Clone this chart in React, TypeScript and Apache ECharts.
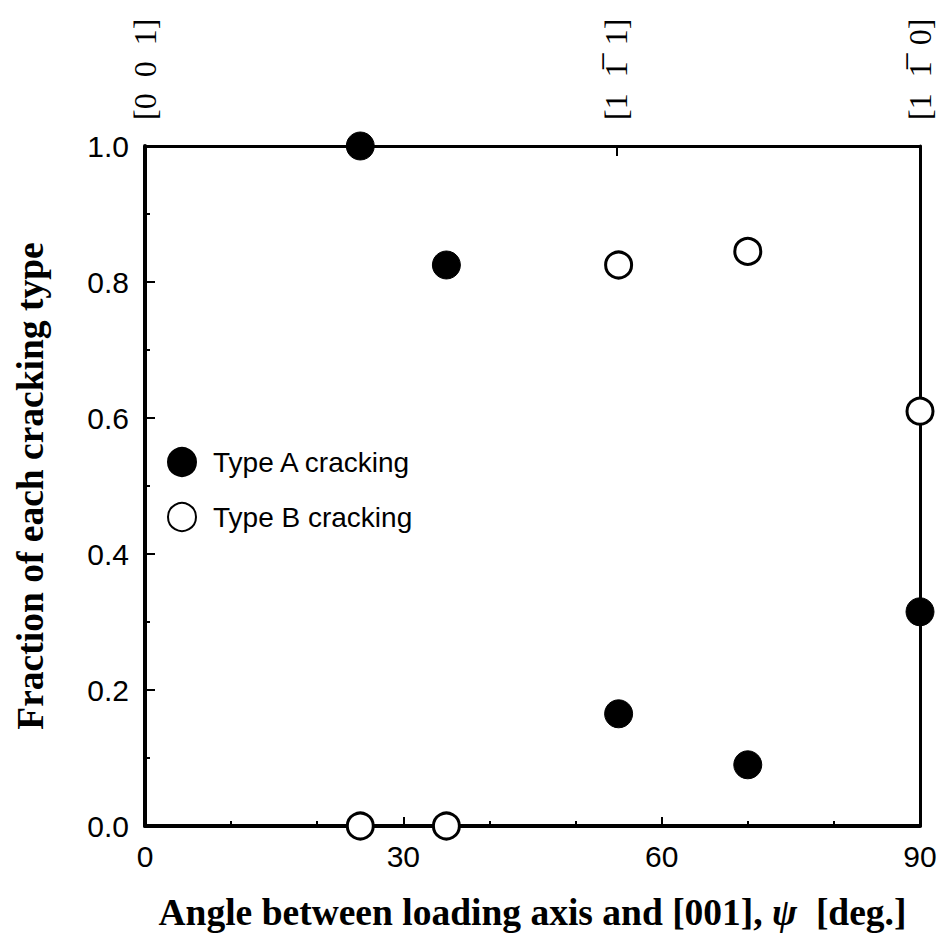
import React, { useEffect, useRef } from "react";
import * as echarts from "echarts";

const typeAPoints: [number, number][] = [
  [25, 1.0],
  [35, 0.825],
  [55, 0.165],
  [70, 0.09],
  [90, 0.315],
];
const typeBPoints: [number, number][] = [
  [25, 0.0],
  [35, 0.0],
  [55, 0.825],
  [70, 0.845],
  [90, 0.61],
];
const seriesNames = ["Type A cracking", "Type B cracking"];
const topTickValues = [0, 54.7356, 90];
const topTickLabels = ["[0  0  1]", "[1  1\u0305  1]", "[1  1\u0305  0]"];
const xTitle = "Angle between loading axis and [001], ";
const yTitle = "Fraction of each cracking type";

const SANS = "'Liberation Sans', Arial, Helvetica, sans-serif";
const SERIF = "'Liberation Serif', 'Times New Roman', serif";

export default function App() {
  const ref = useRef<HTMLDivElement>(null);
  useEffect(() => {
    document.body.style.margin = "0";
    if (!ref.current) return;
    const chart = echarts.init(ref.current, null, { renderer: "svg" });
    chart.setOption({
      animation: false,
      backgroundColor: "#ffffff",
      grid: { left: 145, right: 21, top: 146, bottom: 116, containLabel: false },
      legend: {
        data: seriesNames,
        orient: "vertical",
        left: 162,
        top: 442,
        itemWidth: 40,
        itemHeight: 28,
        itemGap: 25,
        textStyle: { fontSize: 28, color: "#000", fontFamily: SANS, padding: [0, 0, 0, 6] },
      },
      xAxis: [
        {
          type: "value",
          position: "bottom",
          min: 0,
          max: 90,
          interval: 30,
          axisLine: { show: true, onZero: false, lineStyle: { color: "#000", width: 4 } },
          axisTick: { show: true, inside: true, length: 9, lineStyle: { color: "#000", width: 2 } },
          minorTick: { show: true, splitNumber: 3, length: 5, lineStyle: { color: "#000", width: 2 } },
          splitLine: { show: false },
          axisLabel: { fontSize: 30, color: "#000", fontFamily: SANS, margin: 15 },
          name: xTitle + "{i|ψ}  [deg.]",
          nameLocation: "middle",
          nameGap: 67,
          nameTextStyle: {
            fontSize: 37.5,
            fontWeight: "bold",
            color: "#000",
            fontFamily: SERIF,
            rich: {
              i: { fontSize: 37.5, fontStyle: "italic", fontWeight: "bold", fontFamily: SERIF, color: "#000" },
            },
          },
        },
        {
          type: "value",
          position: "top",
          min: 0,
          max: 90,
          axisLine: { show: true, onZero: false, lineStyle: { color: "#000", width: 3 } },
          axisTick: {
            show: true,
            inside: true,
            length: 10,
            customValues: [topTickValues[1]],
            lineStyle: { color: "#000", width: 2 },
          },
          splitLine: { show: false },
          axisLabel: {
            show: true,
            rotate: -90,
            customValues: topTickValues,
            margin: 26,
            fontSize: 32,
            color: "#000",
            fontFamily: SERIF,
            formatter: (v: number) => {
              const i = topTickValues.findIndex((t) => Math.abs(t - v) < 0.01);
              return i >= 0 ? topTickLabels[i] : "";
            },
          },
        },
      ],
      yAxis: [
        {
          type: "value",
          position: "left",
          min: 0,
          max: 1,
          interval: 0.2,
          axisLine: { show: true, onZero: false, lineStyle: { color: "#000", width: 4 } },
          axisTick: { show: true, inside: true, length: 10, lineStyle: { color: "#000", width: 2 } },
          minorTick: { show: true, splitNumber: 2, length: 5, lineStyle: { color: "#000", width: 2 } },
          splitLine: { show: false },
          axisLabel: {
            fontSize: 30,
            color: "#000",
            fontFamily: SANS,
            margin: 16,
            formatter: (v: number) => v.toFixed(1),
          },
          name: yTitle,
          nameLocation: "middle",
          nameRotate: 90,
          nameGap: 96,
          nameTextStyle: { fontSize: 37.5, fontWeight: "bold", color: "#000", fontFamily: SERIF },
        },
        {
          type: "value",
          position: "right",
          min: 0,
          max: 1,
          axisLine: { show: true, onZero: false, lineStyle: { color: "#000", width: 3 } },
          axisTick: { show: false },
          axisLabel: { show: false },
          splitLine: { show: false },
        },
      ],
      series: [
        {
          name: seriesNames[0],
          type: "scatter",
          xAxisIndex: 0,
          yAxisIndex: 0,
          data: typeAPoints,
          symbol: "circle",
          symbolSize: 28,
          clip: false,
          itemStyle: { color: "#000", borderColor: "#000", borderWidth: 1, opacity: 1 },
          z: 5,
        },
        {
          name: seriesNames[1],
          type: "scatter",
          xAxisIndex: 0,
          yAxisIndex: 0,
          data: typeBPoints,
          symbol: "circle",
          symbolSize: 26,
          clip: false,
          itemStyle: { color: "#fff", borderColor: "#000", borderWidth: 3, opacity: 1 },
          z: 5,
        },
      ],
    });
    return () => chart.dispose();
  }, []);
  return <div ref={ref} style={{ width: 941, height: 942 }} />;
}
